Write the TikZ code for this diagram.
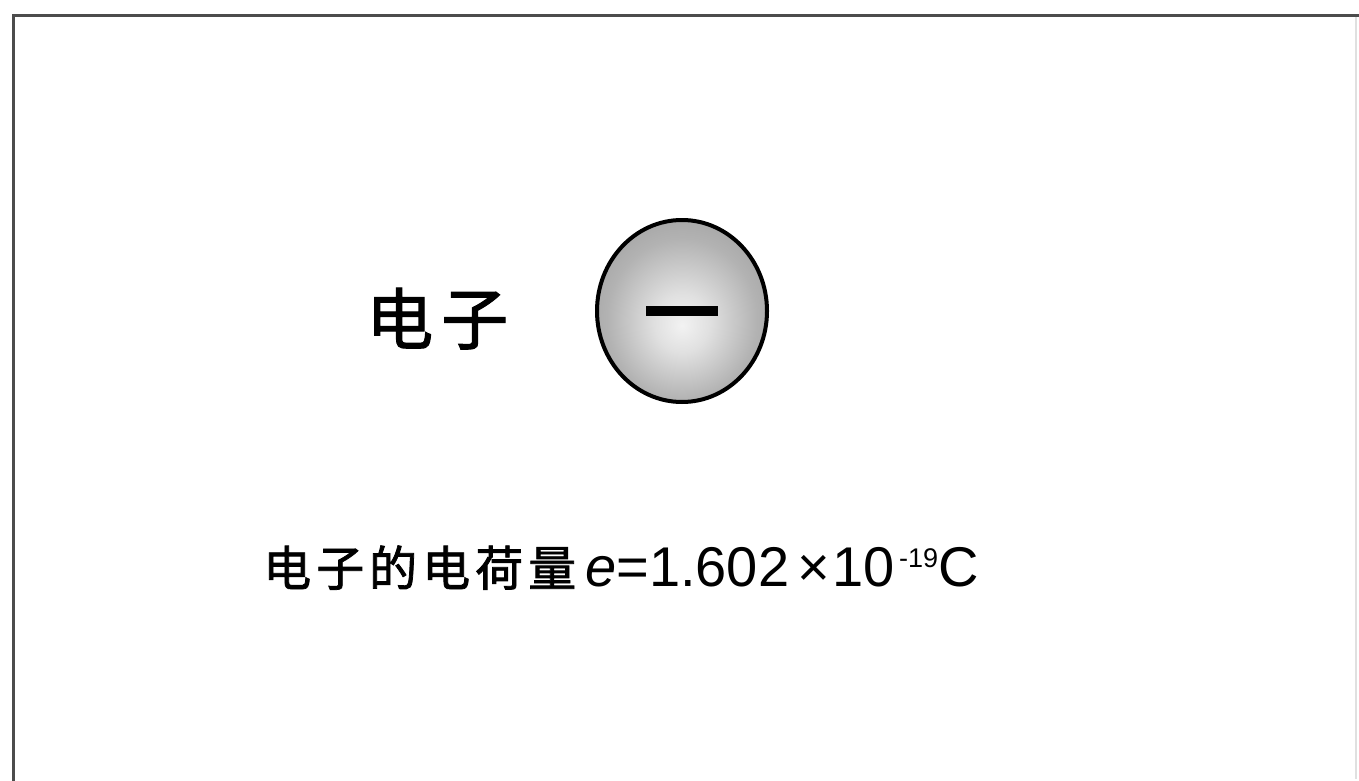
\documentclass[tikz,border=0pt]{standalone}
\usepackage{fontspec}
\setmainfont{Liberation Sans}
\newfontfamily\cjk[BoldFont={*}, BoldFeatures={FakeBold=1.6}]{Noto Sans CJK SC}
\pgfdeclareradialshading{ballshade}{\pgfpoint{0bp}{-4bp}}{color(0bp)=(white!95!black); color(8bp)=(white!88!black); color(22bp)=(white!70!black); color(38bp)=(white!58!black); color(50bp)=(white!52!black)}
\tikzset{
  frameline/.style={draw=black!70, line width=3pt},
  faintline/.style={draw=black!12, line width=1.5pt},
  ball/.style={draw=black, line width=4pt, shading=ballshade},
}
\begin{document}
\begin{tikzpicture}[x=1pt,y=-1pt]
\useasboundingbox (0,0) rectangle (1359,781);
\fill[white] (0,0) rectangle (1359,781);
% frame
\coordinate (tl) at (13,16);
\coordinate (tr) at (1359,16);
\coordinate (bl) at (13,781);
\coordinate (br) at (1356,779);
\draw[faintline] (1356,16) -- (br);
\draw[frameline] (bl) -- (tl) -- (tr);
% electron
\path[ball] (682,311) ellipse [x radius=85, y radius=91];
\node[fill=black, minimum width=72pt, minimum height=10pt, inner sep=0pt] (minus) at (682,311) {};
% labels
\node[anchor=base west, inner sep=0pt, font=\cjk\bfseries\fontsize{67}{67}\selectfont] (lbl) at (366,344) {电\hspace{8pt}子};
\node[anchor=base west, inner sep=0pt] (eq) at (263,586) {{\cjk\bfseries\fontsize{48}{48}\selectfont 电\hspace{5pt}子\hspace{5pt}的\hspace{5pt}电\hspace{5pt}荷\hspace{5pt}量}\hspace{9pt}\fontsize{56}{56}\selectfont\textit{e}=1.602\hspace{8pt}×\hspace{3pt}10\hspace{4pt}\raisebox{19pt}{\fontsize{27}{27}\selectfont -19}C};
\end{tikzpicture}
\end{document}
